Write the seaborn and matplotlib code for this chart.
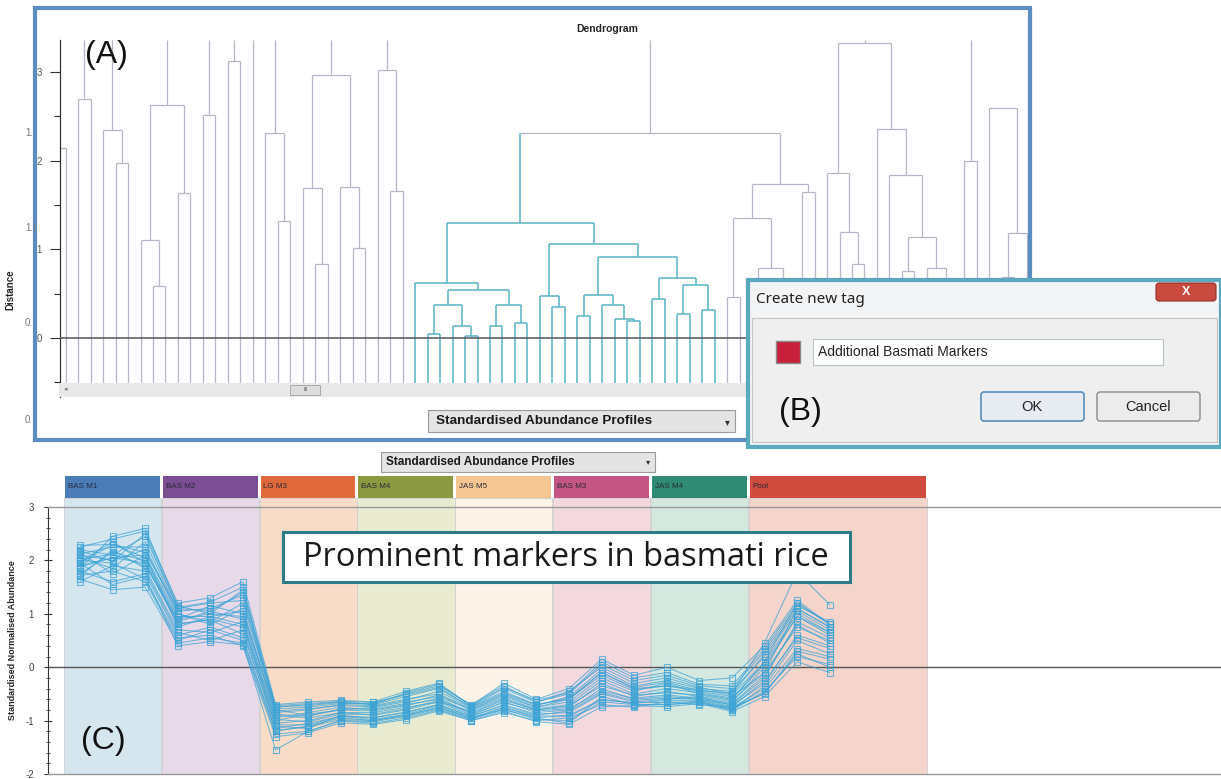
import numpy as np
import pandas as pd
import matplotlib
matplotlib.use("Agg")
import matplotlib.pyplot as plt
import matplotlib.patches as mpatches
from matplotlib.ticker import MultipleLocator
import seaborn as sns

# ─── Data: dendrogram (panel A) ───────────────────────────────────────────────
# node = (merge distance, left, right); None = leaf. Leaves numbered from -1.
L = None
dendro_trees = [
    (2.14, L, L),
    (2.70, L, L),
    (2.35, L, (1.97, L, L)),
    (2.63, (1.11, L, (0.59, L, L)), (1.64, L, L)),
    (2.51, L, L),
    (3.12, L, L),
    L,
    (2.31, L, (1.32, L, L)),
    (2.96, (1.69, L, (0.83, L, L)), (1.70, L, (1.02, L, L))),
    (3.02, L, (1.66, L, L)),
    (2.31,
     (1.30,
      (0.62, L, (0.54,
                 (0.37, (0.05, L, L), (0.13, L, (0.02, L, L))),
                 (0.37, (0.13, L, L), (0.17, L, L)))),
      (1.06,
       (0.47, L, (0.35, L, L)),
       (0.91,
        (0.48, (0.25, L, L), (0.37, L, (0.22, L, (0.19, L, L)))),
        (0.68, (0.44, L, L), (0.60, (0.27, L, L), (0.32, L, L)))))),
     (1.74, (1.35, (0.46, L, L), (0.79, (0.30, L, L), (0.25, L, L))), (1.65, L, L))),
    (3.33, (1.86, L, (1.19, L, (0.83, L, L))),
     (2.36, L, (1.84, L, (1.14, (0.76, L, L), (0.79, L, (0.30, L, L)))))),
    (2.00, L, L),
    (2.59, L, (1.18, (0.69, L, L), L)),
]
dendro_open_top = [True] * 13 + [False]
tagged_leaves = range(28, 53)   # highlighted cluster (blue)
first_leaf = -1

# ─── Data: standardised abundance profiles (panel C) ──────────────────────────
groups = ["BAS M1", "BAS M2", "LG M3", "BAS M4", "JAS M5", "BAS M3", "JAS M4", "Pool"]
group_colors = ["#4a7db8", "#7b4e93", "#e0693a", "#8b9a40", "#f5c592", "#c35682", "#2f8b74", "#cf4b3e"]
band_colors = ["#d6e6ef", "#e7d9e7", "#f8dcc8", "#e8ebd0", "#fdf3e8", "#f3d9de", "#d5e8e0", "#f4d4cb"]
group_span = [3, 3, 3, 3, 3, 3, 3, 5.5]

prof_01 = [2.20, 2.10, 2.45, 1.10, 1.05, 1.40, -0.75, -0.70, -0.65, -0.70, -0.55, -0.40, -0.75, -0.45, -0.70, -0.60, -0.10, -0.40, -0.35, -0.45, -0.55, -0.10, 1.10, 0.75]
prof_02 = [1.95, 2.30, 2.05, 0.90, 1.00, 0.95, -0.95, -0.85, -0.75, -0.80, -0.70, -0.60, -0.85, -0.60, -0.80, -0.75, -0.30, -0.55, -0.45, -0.55, -0.65, 0.00, 0.95, 0.60]
prof_03 = [1.80, 1.60, 1.75, 0.60, 0.75, 0.55, -1.20, -1.10, -0.95, -1.00, -0.90, -0.75, -0.95, -0.80, -0.95, -1.05, -0.55, -0.70, -0.70, -0.65, -0.80, -0.45, 0.20, 0.05]
prof_04 = [2.10, 2.00, 2.20, 1.00, 0.85, 1.20, -0.80, -0.90, -0.80, -0.75, -0.65, -0.55, -0.80, -0.55, -0.75, -0.65, -0.20, -0.45, -0.30, -0.50, -0.60, 0.10, 1.20, 0.80]
prof_05 = [1.65, 1.45, 1.50, 0.45, 0.55, 0.45, -1.25, -1.20, -1.00, -1.05, -0.95, -0.80, -1.00, -0.85, -1.00, -0.95, -0.70, -0.75, -0.65, -0.70, -0.75, -0.50, 0.30, 0.15]
prof_06 = [2.25, 2.40, 2.55, 1.20, 1.30, 1.60, -0.70, -0.65, -0.62, -0.65, -0.45, -0.30, -0.72, -0.30, -0.60, -0.40, 0.15, -0.15, 0.00, -0.25, -0.20, 0.40, 1.25, 0.80]
prof_07 = [1.90, 2.05, 1.95, 0.80, 0.90, 0.75, -1.05, -1.00, -0.85, -0.90, -0.80, -0.65, -0.90, -0.65, -0.85, -0.80, -0.40, -0.60, -0.55, -0.60, -0.70, -0.20, 0.85, 0.55]
prof_08 = [2.05, 1.85, 2.35, 1.05, 1.10, 1.35, -0.85, -0.80, -0.70, -0.72, -0.60, -0.50, -0.78, -0.50, -0.72, -0.55, -0.05, -0.35, -0.25, -0.40, -0.45, 0.20, 1.05, 0.70]
prof_09 = [1.70, 2.20, 1.85, 0.70, 0.65, 0.85, -1.10, -1.15, -0.90, -0.95, -0.85, -0.70, -0.92, -0.70, -0.88, -0.85, -0.50, -0.65, -0.60, -0.55, -0.72, -0.30, 0.60, 0.40]
prof_10 = [2.15, 1.75, 2.10, 0.95, 0.95, 1.05, -0.90, -0.95, -0.85, -0.85, -0.75, -0.65, -0.82, -0.58, -0.78, -0.70, -0.25, -0.50, -0.40, -0.48, -0.58, 0.05, 0.95, 0.65]
prof_11 = [1.85, 2.45, 2.60, 1.15, 1.00, 1.45, -0.78, -0.75, -0.68, -0.68, -0.50, -0.35, -0.70, -0.35, -0.65, -0.50, 0.05, -0.25, -0.15, -0.35, -0.40, 0.30, 1.15, 0.85]
prof_12 = [2.00, 1.95, 1.65, 0.55, 0.60, 0.40, -1.30, -1.23, -1.04, -1.07, -0.98, -0.82, -1.00, -0.82, -1.02, -1.07, -0.74, -0.72, -0.74, -0.68, -0.83, -0.55, 0.10, -0.10]
prof_13 = [1.75, 2.15, 2.00, 0.85, 1.05, 0.90, -1.00, -0.88, -0.80, -0.82, -0.72, -0.58, -0.86, -0.62, -0.80, -0.72, -0.35, -0.52, -0.48, -0.52, -0.62, -0.10, 0.75, 0.50]
prof_14 = [2.28, 2.30, 2.15, 1.10, 1.20, 1.25, -0.72, -0.68, -0.64, -0.66, -0.52, -0.38, -0.74, -0.40, -0.66, -0.45, 0.00, -0.30, -0.20, -0.38, -0.50, 0.25, 1.10, 0.75]
prof_15 = [1.60, 1.90, 1.80, 0.65, 0.50, 0.70, -1.15, -1.05, -0.92, -0.98, -0.88, -0.72, -0.95, -0.75, -0.92, -0.90, -0.60, -0.68, -0.62, -0.62, -0.76, -0.40, 0.35, 0.20]
prof_16 = [1.95, 1.55, 1.70, 0.40, 0.48, 0.42, -1.55, -1.20, -1.00, -1.02, -0.92, -0.78, -0.98, -0.78, -0.98, -1.00, -0.65, -0.70, -0.70, -0.66, -0.80, -0.35, 0.50, 0.25]
prof_17 = [2.12, 2.25, 2.25, 1.00, 0.80, 1.10, -0.88, -0.92, -0.78, -0.78, -0.68, -0.52, -0.80, -0.52, -0.75, -0.60, -0.15, -0.42, -0.35, -0.42, -0.52, 0.10, 1.00, 0.65]
prof_18 = [1.88, 2.05, 2.10, 0.75, 0.95, 0.80, -0.98, -1.02, -0.88, -0.88, -0.78, -0.62, -0.88, -0.66, -0.82, -0.78, -0.45, -0.58, -0.52, -0.58, -0.68, -0.15, 0.80, 0.45]
prof_19 = [2.02, 2.12, 1.90, 0.90, 1.15, 1.00, -0.82, -0.78, -0.72, -0.74, -0.62, -0.45, -0.76, -0.48, -0.70, -0.58, -0.10, -0.38, -0.28, -0.44, -0.48, 0.46, 1.78, 1.17]
prof_20 = [1.72, 1.80, 1.60, 0.50, 0.70, 0.50, -1.18, -1.12, -0.98, -1.00, -0.90, -0.76, -0.96, -0.76, -0.94, -0.92, -0.62, -0.66, -0.66, -0.64, -0.78, -0.48, 0.25, 0.00]
prof_21 = [2.18, 1.98, 2.50, 1.12, 1.22, 1.50, -0.74, -0.72, -0.66, -0.70, -0.48, -0.32, -0.72, -0.38, -0.62, -0.48, 0.10, -0.20, -0.10, -0.32, -0.35, 0.35, 1.20, 0.80]
prof_22 = [1.98, 2.35, 1.95, 0.82, 0.88, 0.62, -1.08, -1.08, -0.92, -0.94, -0.84, -0.70, -0.92, -0.72, -0.90, -0.82, -0.48, -0.62, -0.58, -0.60, -0.74, -0.25, 0.55, 0.35]
profiles = [prof_01, prof_02, prof_03, prof_04, prof_05, prof_06, prof_07, prof_08, prof_09, prof_10, prof_11,
            prof_12, prof_13, prof_14, prof_15, prof_16, prof_17, prof_18, prof_19, prof_20, prof_21, prof_22]

# ─── Figure setup ────────────────────────────────────────────────────────────
sns.set_style("white")
plt.rcParams["font.family"] = ["Liberation Sans", "DejaVu Sans"]
plt.rcParams["axes.unicode_minus"] = False
W, H = 1221, 779
fig = plt.figure(figsize=(W / 100, H / 100), dpi=100)


def px_axes(x0, y0, x1, y1):
    return [x0 / W, 1 - y1 / H, (x1 - x0) / W, (y1 - y0) / H]


# ─── Panel A: dendrogram ─────────────────────────────────────────────────────
grey_line, blue_line = "#b5b7c6", "#58b3c8"
leaf_bottom, top_val = -0.53, 3.36
tagged = set(tagged_leaves)
segs = []
state = {"next": first_leaf}


def walk(node):
    if node is None:
        i = state["next"]
        state["next"] += 1
        return float(i), leaf_bottom, [i]
    h, left, right = node
    xl, hl, ml = walk(left)
    xr, hr, mr = walk(right)
    segs.append(([xl, xl], [hl, h], set(ml) <= tagged))
    segs.append(([xr, xr], [hr, h], set(mr) <= tagged))
    segs.append(([xl, xr], [h, h], set(ml + mr) <= tagged))
    return (xl + xr) / 2, h, ml + mr


for tree, open_top in zip(dendro_trees, dendro_open_top):
    x, h, members = walk(tree)
    if open_top:
        segs.append(([x, x], [h, top_val], set(members) <= tagged))

axd = fig.add_axes(px_axes(60, 40, 1028, 397))
for xs, ys, is_tag in segs:
    axd.plot(xs, ys, color=blue_line if is_tag else grey_line, lw=1.1 if is_tag else 0.9,
             solid_capstyle="butt", zorder=2)
axd.axhline(0, color="#555555", lw=1.1, zorder=3)
axd.set_xlim(-0.45, 77.1)
axd.set_ylim(-0.665, top_val)
axd.add_patch(mpatches.Rectangle((-0.45, -0.665), 78, 0.155, fc="#e9e9e9", ec="none", zorder=4))
axd.add_patch(mpatches.Rectangle((18.0, -0.645), 2.4, 0.12, fc="#dcdcdc", ec="#a0a0a0", lw=0.6, zorder=5))
axd.text(19.2, -0.585, "III", fontsize=4, ha="center", va="center", color="#555555", zorder=6)
axd.text(0.0, -0.585, "◂", fontsize=5, ha="center", va="center", color="#777777", zorder=6)
for side in ["top", "right", "bottom"]:
    axd.spines[side].set_visible(False)
axd.spines["left"].set_color("#333333")
axd.spines["left"].set_linewidth(0.9)
axd.set_xticks([])
axd.yaxis.set_major_locator(MultipleLocator(1))
axd.yaxis.set_minor_locator(MultipleLocator(0.5))
axd.tick_params(axis="y", which="major", length=7, width=0.8, color="#333333",
                labelsize=7, labelcolor="#555555", pad=6, left=True)
axd.tick_params(axis="y", which="minor", length=4, width=0.8, color="#333333", left=True)
axd.set_ylabel("Distance", fontsize=7, fontweight="bold")
axd.yaxis.set_label_coords(-45 / 968, 0.30)
axd.set_title("Dendrogram", fontsize=7.5, fontweight="bold", pad=6, x=0.565)

# ─── Panel C: standardised abundance profiles ────────────────────────────────
axc = fig.add_axes(px_axes(48, 507, 1221, 774))
starts = np.arange(len(groups)) * 3
axc.bar(starts - 0.49, 5.17, width=[s - 0.02 for s in group_span], bottom=-2, align="edge",
        color=band_colors, edgecolor="#cfcfcf", lw=0.6, clip_on=False, zorder=0)
axc.bar(starts - 0.46, 0.41, width=[s - 0.09 for s in group_span], bottom=3.17, align="edge",
        color=group_colors, edgecolor="none", clip_on=False, zorder=1)
for s, name in zip(starts, groups):
    axc.text(s - 0.37, 3.375, name, fontsize=5.8, color="#2a2a3a", va="center", ha="left", clip_on=False)

rows = [(k, pos, v) for k, prof in enumerate(profiles) for pos, v in enumerate(prof)]
df = pd.DataFrame(rows, columns=["profile", "sample", "value"])
line_col = "#3ea4d6"
sns.lineplot(data=df, x="sample", y="value", units="profile", estimator=None, ax=axc,
             color=line_col, lw=0.75, alpha=0.75, marker="s", markersize=4.5,
             mfc="none", mec=line_col, mew=0.8, legend=False, zorder=3)
axc.axhline(0, color="#555555", lw=1.0, zorder=2)
axc.set_xlim(-0.98, 35.0)
axc.set_ylim(-2, 3)
axc.set_xticks([])
axc.set_xlabel("")
axc.yaxis.set_major_locator(MultipleLocator(1))
axc.yaxis.set_minor_locator(MultipleLocator(0.2))
axc.tick_params(axis="y", which="major", direction="inout", length=6, width=0.8,
                color="#333333", labelsize=7, labelcolor="#444444", pad=7, left=True)
axc.tick_params(axis="y", which="minor", direction="inout", length=3, width=0.6, color="#333333", left=True)
axc.spines["right"].set_visible(False)
axc.spines["left"].set_color("#333333")
for side in ["top", "bottom"]:
    axc.spines[side].set_color("#9a9a9a")
    axc.spines[side].set_linewidth(1.0)
axc.set_ylabel("Standardised Normalised Abundance", fontsize=6.5, fontweight="bold")
axc.yaxis.set_label_coords(-31 / 1173, 0.5)
axc.patch.set_visible(False)

# ─── Overlay: panel frames, dialog, dropdowns, annotations ───────────────────
ov = fig.add_axes([0, 0, 1, 1], zorder=10)
ov.set_xlim(0, W)
ov.set_ylim(H, 0)
ov.axis("off")
ov.patch.set_visible(False)

# panel A frame + dropdown
ov.add_patch(mpatches.Rectangle((35, 8), 995, 432, fc="none", ec="#5b8dc2", lw=3))
ov.add_patch(mpatches.Rectangle((428, 410), 307, 22, fc="#e4e4e4", ec="#9a9a9a", lw=0.8))
ov.text(436, 421, "Standardised Abundance Profiles", fontsize=9.7, fontweight="bold", va="center", color="#1a1a1a")
ov.text(727, 422, "▾", fontsize=7, ha="center", va="center", color="#333333")
ov.text(106, 55, "(A)", fontsize=23, ha="center", va="center", color="#111111")

# panel C dropdown + label + annotation
ov.add_patch(mpatches.Rectangle((381, 452), 274, 20, fc="#e4e4e4", ec="#9a9a9a", lw=0.8))
ov.text(386, 462, "Standardised Abundance Profiles", fontsize=8.5, fontweight="bold", va="center", color="#1a1a1a")
ov.text(648, 463, "▾", fontsize=6, ha="center", va="center", color="#333333")
ov.text(103, 741, "(C)", fontsize=23, ha="center", va="center", color="#111111")
ov.add_patch(mpatches.Rectangle((283, 532), 567, 50, fc="white", ec="#2c7c88", lw=2.2))
ov.text(566, 557, "Prominent markers in basmati rice", fontsize=23.5, ha="center", va="center",
        color="#1a1a1a", family=["Open Sans", "DejaVu Sans"])

# panel B dialog
ov.add_patch(mpatches.Rectangle((748, 280), 473, 167, fc="#f2f4f6", ec="#5aa9bf", lw=3))
ov.add_patch(mpatches.Rectangle((752, 318), 465, 124, fc="#efefef", ec="#c4c4c4", lw=0.8))
ov.add_patch(mpatches.FancyBboxPatch((1156, 283), 60, 18, boxstyle="round,pad=0,rounding_size=3",
                                     fc="#c94a3e", ec="#8c2f28", lw=0.8))
ov.text(1186, 292, "X", fontsize=9, fontweight="bold", ha="center", va="center", color="white")
ov.text(756, 299, "Create new tag", fontsize=11, va="center", color="#222222", family=["Noto Sans", "DejaVu Sans"])
ov.add_patch(mpatches.Rectangle((776, 341), 24, 22, fc="#c8203a", ec="#8a8a8a", lw=1.0))
ov.add_patch(mpatches.Rectangle((813, 339), 350, 26, fc="white", ec="#b8c4cc", lw=0.8))
ov.text(818, 352, "Additional Basmati Markers", fontsize=10, va="center", color="#222222")
ov.add_patch(mpatches.FancyBboxPatch((981, 392), 103, 29, boxstyle="round,pad=0,rounding_size=3",
                                     fc="#e6ecf1", ec="#5a8fbf", lw=1.2))
ov.text(1032, 407, "OK", fontsize=10.5, ha="center", va="center", color="#222222")
ov.add_patch(mpatches.FancyBboxPatch((1097, 392), 103, 29, boxstyle="round,pad=0,rounding_size=3",
                                     fc="#ececec", ec="#8a8a8a", lw=1.0))
ov.text(1148, 407, "Cancel", fontsize=10.5, ha="center", va="center", color="#222222")
ov.text(800, 412, "(B)", fontsize=23, ha="center", va="center", color="#111111")

# garbled overlapping axis labels visible in the screenshot
for yy, lab in [(133, "1."), (228, "1.("), (323, "0."), (420, "0.")]:
    ov.text(25, yy, lab, fontsize=7, color="#777777", va="center")

fig.savefig("out.png", dpi=100)
